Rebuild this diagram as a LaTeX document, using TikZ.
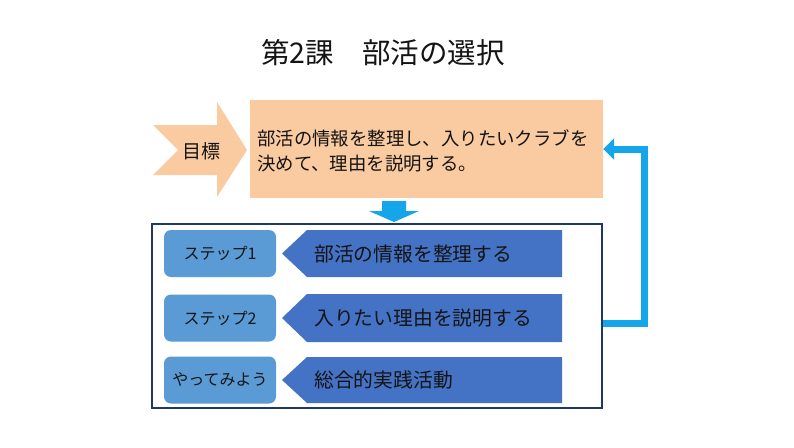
\documentclass[tikz,border=0pt]{standalone}
\usepackage{fontspec}
\setmainfont{Noto Sans CJK JP}
\usetikzlibrary{arrows.meta}
\definecolor{peach}{RGB}{250,203,160}
\definecolor{sky}{RGB}{20,165,235}
\definecolor{navy}{RGB}{31,56,100}
\definecolor{midblue}{RGB}{91,155,213}
\definecolor{darkblue}{RGB}{68,114,196}
\definecolor{txt}{RGB}{20,20,20}
\tikzset{
  steplabel/.style={rectangle, rounded corners=7pt, fill=midblue, minimum width=112pt, minimum height=47pt, inner sep=0pt, text=txt, font=\fontsize{16}{18}\selectfont},
  rowtext/.style={anchor=west, inner sep=0pt, text=txt, font=\fontsize{19.8}{22}\selectfont},
  fbline/.style={draw=sky, line width=7pt, line join=miter, -{Triangle[width=21pt,length=11pt]}},
}
\begin{document}
\begin{tikzpicture}[x=1pt,y=-1pt]
\useasboundingbox (0,0) rectangle (794,447);
\fill[white] (0,0) rectangle (794,447);
% title
\node[font=\fontsize{28.5}{30}\selectfont, text=txt] (title) at (383,53) {第2課　部活の選択};
% goal chevron
\fill[peach] (153,125) -- (217,125) -- (217,102) -- (247,150) -- (217,197) -- (217,175) -- (153,175) -- (178,150) -- cycle;
\node[font=\fontsize{19}{22}\selectfont, text=txt] (goallabel) at (201,151) {目標};
% goal box
\node[rectangle, fill=peach, minimum width=353pt, minimum height=98pt, inner sep=0pt] (goal) at (426.5,149) {};
\node[anchor=west, align=left, inner sep=0pt, font=\fontsize{18.4}{25}\selectfont, text=txt] (goaltext) at (257,151) {部活の情報を整理し、入りたいクラブを\\決めて、理由を説明する。};
% down arrow
\fill[sky] (382,201) -- (406,201) -- (406,211) -- (419,211) -- (394,222) -- (369,211) -- (382,211) -- cycle;
% frame
\node[rectangle, draw=navy, line width=1.5pt, fill=white, minimum width=450pt, minimum height=184pt, inner sep=0pt] (frame) at (377,316) {};
% rows
\foreach \t/\b/\n in {230/277/1, 294/342/2, 357/403/3}{
  \fill[darkblue] (282,{(\t+\b)/2}) -- (307,\t) -- (562,\t) -- (562,\b) -- (307,\b) -- cycle;
}
\node[steplabel] (s1) at (220,253.5) {ステップ1};
\node[steplabel] (s2) at (220,318) {ステップ2};
\node[steplabel] (s3) at (220,380) {やってみよう};
\node[rowtext] (r1) at (314,254) {部活の情報を整理する};
\node[rowtext] (r2) at (314,318) {入りたい理由を説明する};
\node[rowtext] (r3) at (314,380) {総合的実践活動};
% feedback connector
\coordinate (fb) at ([yshift=-7pt]frame.east);
\draw[fbline] (fb) -- ++(42,0) |- (goal.east);
\end{tikzpicture}
\end{document}
